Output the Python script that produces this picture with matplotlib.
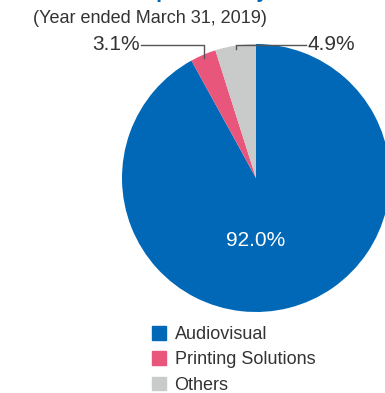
import numpy as np
import matplotlib.pyplot as plt
from matplotlib.patches import Rectangle

plt.rcParams['font.family'] = ['Liberation Sans', 'DejaVu Sans']

segments = ['Audiovisual', 'Printing Solutions', 'Others']
shares = [92.0, 3.1, 4.9]
colors = ['#0068b7', '#e8567b', '#c9caca']
subtitle = '(Year ended March 31, 2019)'
title = 'Sales Composition by Business'

W, H = 385, 393
fig = plt.figure(figsize=(W / 100, H / 100), dpi=100)
ax = fig.add_axes([0, 0, 1, 1])

cx, cy, R = 256, H - 178, 134
wedges, _ = ax.pie(shares, colors=colors, startangle=90, counterclock=False,
                   center=(cx, cy), radius=R,
                   wedgeprops=dict(linewidth=0))
ax.set_xlim(0, W)
ax.set_ylim(0, H)
ax.set_aspect('equal')
ax.axis('off')

# big share printed inside the pie
ax.text(cx, cy - 62, f'{shares[0]:.1f}%', color='white', fontsize=15,
        ha='center', va='center')

# leader lines for the two small slices
elbow_y = H - 45
for w, val, side in [(wedges[1], shares[1], 'left'), (wedges[2], shares[2], 'right')]:
    mid = np.deg2rad((w.theta1 + w.theta2) / 2)
    px = cx + 0.975 * R * np.cos(mid)
    py = cy + 0.975 * R * np.sin(mid)
    if side == 'left':
        tx = 141
        ax.plot([px, px, tx], [py, elbow_y, elbow_y], color='#555555', lw=1)
        ax.text(tx - 1, elbow_y, f'{val:.1f}%', fontsize=15, color='#333333',
                ha='right', va='center')
    else:
        tx = 306
        ax.plot([px, px, tx], [py, elbow_y, elbow_y], color='#555555', lw=1)
        ax.text(tx + 1, elbow_y, f'{val:.1f}%', fontsize=15, color='#333333',
                ha='left', va='center')

ax.text(33, H - 23, subtitle, fontsize=13, color='#333333', va='baseline')
ax.text(49, H + 2.5, title, fontsize=15, fontweight='bold', color='#0068b7',
        va='baseline', clip_on=False)

handles = [Rectangle((0, 0), 1, 1, color=c) for c in colors]
ax.legend(handles, segments, loc='upper left', bbox_to_anchor=(152, H - 326),
          bbox_transform=ax.transData, frameon=False, fontsize=13,
          handlelength=0.8, handleheight=0.8, handletextpad=0.45,
          labelspacing=0.45, borderpad=0, borderaxespad=0,
          labelcolor='#333333')

fig.savefig('out.png', dpi=100)
